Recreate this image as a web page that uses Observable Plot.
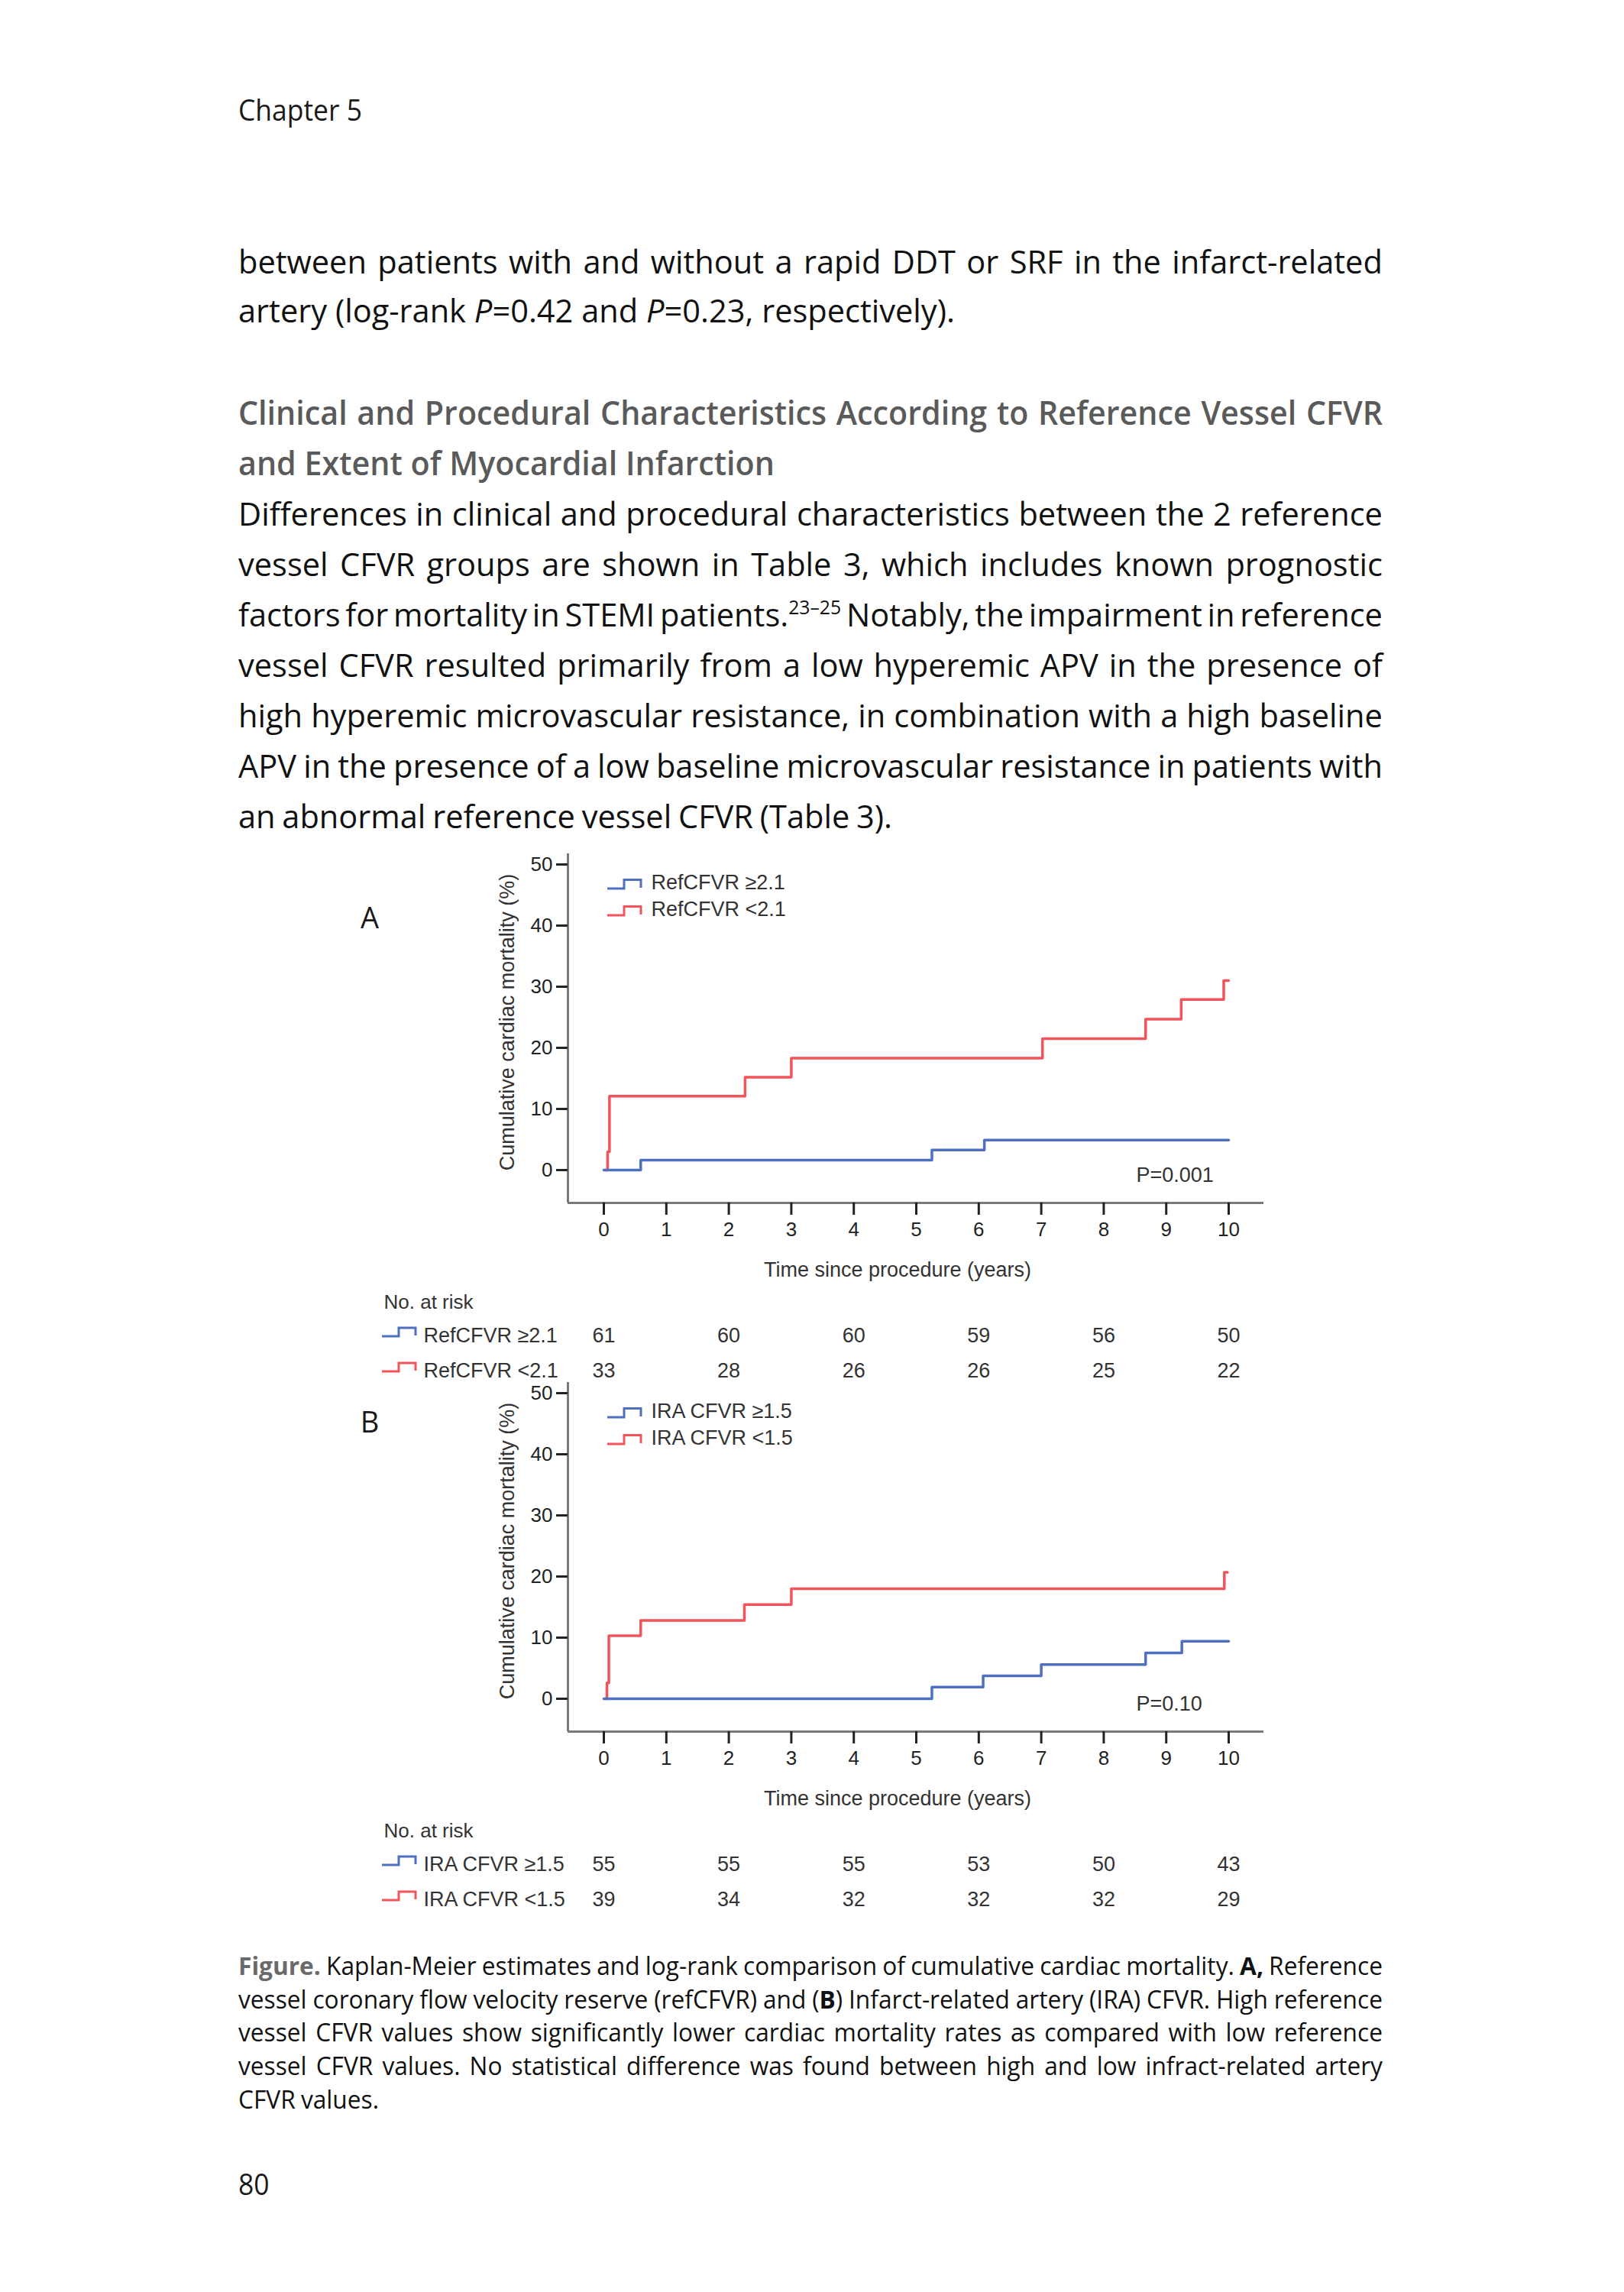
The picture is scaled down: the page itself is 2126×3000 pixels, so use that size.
<!DOCTYPE html>
<html><head><meta charset="utf-8">
<script src="https://cdn.jsdelivr.net/npm/d3@7"></script>
<script src="https://cdn.jsdelivr.net/npm/@observablehq/plot@0.6"></script>
<style>
html,body{margin:0;padding:0;background:#fff;}
#page{position:relative;width:2126px;height:3000px;overflow:hidden;background:#fff;}
#overlay{position:absolute;left:0;top:0;z-index:2;pointer-events:none;}
</style></head>
<body><div id="page"><svg id="overlay" width="2126" height="3000" xmlns="http://www.w3.org/2000/svg"></svg></div>
<script>
// ---------------- DATA ----------------
const timeTicks = [0,1,2,3,4,5,6,7,8,9,10];
const yTicks = [0,10,20,30,40,50];
const riskTimes = [0,2,4,6,8,10];
const xLabel = "Time since procedure (years)";
const yLabel = "Cumulative cardiac mortality (%)";

// Panel A
const aNames = ["RefCFVR \u22652.1", "RefCFVR <2.1"];
const aBlueT = [0, 0.59, 5.25, 6.09, 10];
const aBlueV = [0, 1.64, 3.28, 4.92, 4.92];
const aRedT  = [0.02, 0.06, 0.09, 2.26, 3.0, 7.02, 8.67, 9.24, 9.92, 10.0];
const aRedV  = [0, 3.0, 12.1, 15.2, 18.3, 21.5, 24.7, 27.9, 31.0, 31.0];
const aRiskBlue = [61, 60, 60, 59, 56, 50];
const aRiskRed  = [33, 28, 26, 26, 25, 22];
const aP = "P=0.001";

// Panel B
const bNames = ["IRA CFVR \u22651.5", "IRA CFVR <1.5"];
const bBlueT = [0, 5.25, 6.07, 7.0, 8.67, 9.25, 10];
const bBlueV = [0, 1.9, 3.75, 5.6, 7.5, 9.4, 9.4];
const bRedT  = [0.02, 0.05, 0.08, 0.59, 2.25, 3.0, 9.93, 9.98];
const bRedV  = [0, 2.6, 10.3, 12.8, 15.4, 18.0, 20.7, 20.7];
const bRiskBlue = [55, 55, 55, 53, 50, 43];
const bRiskRed  = [39, 34, 32, 32, 32, 29];
const bP = "P=0.10";

// Page text
const chapterText = "Chapter 5";
const introLines = [
  "between patients with and without a rapid DDT or SRF in the infarct-related",
  "artery (log-rank *P*=0.42 and *P*=0.23, respectively)."
];
const headingLines = [
  "Clinical and Procedural Characteristics According to Reference Vessel CFVR",
  "and Extent of Myocardial Infarction"
];
const paraLines = [
  "Differences in clinical and procedural characteristics between the 2 reference",
  "vessel CFVR groups are shown in Table 3, which includes known prognostic",
  "factors for mortality in STEMI patients.^23\u201325^ Notably, the impairment in reference",
  "vessel CFVR resulted primarily from a low hyperemic APV in the presence of",
  "high hyperemic microvascular resistance, in combination with a high baseline",
  "APV in the presence of a low baseline microvascular resistance in patients with",
  "an abnormal reference vessel CFVR (Table 3)."
];
const captionLines = [
  "{Figure.} Kaplan-Meier estimates and log-rank comparison of cumulative cardiac mortality. **A,** Reference",
  "vessel coronary flow velocity reserve (refCFVR) and (**B**) Infarct-related artery (IRA) CFVR. High reference",
  "vessel CFVR values show significantly lower cardiac mortality rates as compared with low reference",
  "vessel CFVR values. No statistical difference was found between high and low infract-related artery",
  "CFVR values."
];
const pageNumber = "80";

// ---------------- STYLE ----------------
const BLUE = "#4f6fc0";
const RED = "#f2545c";
const CHART_FONT = "'Liberation Sans', Arial, Helvetica, sans-serif";
const PAGE_FONT = "'Open Sans', 'Noto Sans', sans-serif";

const page = document.getElementById("page");
const overlay = document.getElementById("overlay");
const NS = "http://www.w3.org/2000/svg";

// ---------------- CHART PANELS ----------------
const X0 = -0.5746, X1 = 10.562, Y0 = -5.375, Y1 = 51.75;
function label(txt, frameAnchor, dx, dy, extra) {
  return Plot.text([txt], Object.assign({frameAnchor, dx, dy, lineAnchor: "middle", textAnchor: "start", fontSize: 27, fill: "#333"}, extra || {}));
}
function panel(top, names, bT, bV, rT, rV, riskB, riskR, pText) {
  const blue = bT.map((t, i) => ({t, v: bV[i]}));
  const red = rT.map((t, i) => ({t, v: rV[i]}));
  const rb = riskTimes.map((t, i) => ({t, n: riskB[i]}));
  const rr = riskTimes.map((t, i) => ({t, n: riskR[i]}));
  const chart = Plot.plot({
    width: 1240, height: 720,
    marginLeft: 283, marginRight: 46, marginTop: 17, marginBottom: 246,
    x: {domain: [X0, X1]},
    y: {domain: [Y0, Y1]},
    style: {fontFamily: CHART_FONT, fontSize: "26px", color: "#222", background: "transparent", overflow: "visible"},
    marks: [
      Plot.ruleX([X0], {stroke: "#7a7a7a", strokeWidth: 3}),
      Plot.ruleY([Y0], {stroke: "#7a7a7a", strokeWidth: 3}),
      Plot.axisX({ticks: timeTicks, tickSize: 16, tickPadding: 9, strokeWidth: 3, stroke: "#222", fontSize: 26, label: null, tickFormat: d => String(d)}),
      Plot.axisY({ticks: yTicks, tickSize: 15, tickPadding: 5, strokeWidth: 3, stroke: "#222", fontSize: 26, label: null, tickFormat: d => String(d)}),
      Plot.line(red, {x: "t", y: "v", curve: "step-after", stroke: RED, strokeWidth: 3.5}),
      Plot.line(blue, {x: "t", y: "v", curve: "step-after", stroke: BLUE, strokeWidth: 3.5}),
      label(yLabel, "left", -79, -8, {rotate: -90, textAnchor: "middle", fontSize: 27}),
      label(xLabel, "bottom", -24, 88, {textAnchor: "middle", fontSize: 27}),
      label(names[0], "top-left", 109, 38),
      label(names[1], "top-left", 109, 73),
      label(pText, "bottom-left", 744, -36),
      label("No. at risk", "bottom-left", -241, 130, {fontSize: 26}),
      label(names[0], "bottom-left", -189, 174),
      label(names[1], "bottom-left", -189, 220),
      Plot.text(rb, {x: "t", text: "n", frameAnchor: "bottom", dy: 174, lineAnchor: "middle", textAnchor: "middle", fontSize: 27, fill: "#333"}),
      Plot.text(rr, {x: "t", text: "n", frameAnchor: "bottom", dy: 220, lineAnchor: "middle", textAnchor: "middle", fontSize: 27, fill: "#333"})
    ]
  });
  chart.style.position = "absolute";
  chart.style.left = "460px";
  chart.style.top = top + "px";
  page.insertBefore(chart, overlay);

  // legend glyphs (step icons) next to the legend and risk-table labels
  const off = top - 1100;
  stepIcon(795, 1163 + off, 1151.5 + off, BLUE);
  stepIcon(795, 1198 + off, 1186.5 + off, RED);
  stepIcon(500, 1749 + off, 1738 + off, BLUE);
  stepIcon(500, 1795 + off, 1784 + off, RED);
}
function stepIcon(x, yLow, yHigh, color) {
  const p = document.createElementNS(NS, "path");
  p.setAttribute("d", `M${x},${yLow} H${x + 22} V${yHigh} H${x + 44} V${yLow - 1}`);
  p.setAttribute("fill", "none");
  p.setAttribute("stroke", color);
  p.setAttribute("stroke-width", 3);
  overlay.appendChild(p);
}

panel(1100, aNames, aBlueT, aBlueV, aRedT, aRedV, aRiskBlue, aRiskRed, aP);
panel(1792, bNames, bBlueT, bBlueV, bRedT, bRedV, bRiskBlue, bRiskRed, bP);

// ---------------- PAGE TEXT ----------------
function parseWord(w) {
  const segs = [];
  const re = /(\*\*[^*]+\*\*|\*[^*]+\*|\^[^^]+\^|\{[^}]+\})/g;
  let last = 0, m;
  while ((m = re.exec(w))) {
    if (m.index > last) segs.push({t: w.slice(last, m.index)});
    const tok = m[0];
    if (tok.startsWith("**")) segs.push({t: tok.slice(2, -2), b: true});
    else if (tok.startsWith("*")) segs.push({t: tok.slice(1, -1), i: true});
    else if (tok.startsWith("^")) segs.push({t: tok.slice(1, -1), sup: true});
    else segs.push({t: tok.slice(1, -1), b: true, fill: "#6a6a6a"});
    last = m.index + tok.length;
  }
  if (last < w.length) segs.push({t: w.slice(last)});
  return segs;
}
function makeWord(segs, size, weight, fill) {
  const t = document.createElementNS(NS, "text");
  t.setAttribute("font-family", PAGE_FONT);
  t.setAttribute("font-size", size);
  t.setAttribute("font-weight", weight);
  t.setAttribute("fill", fill);
  for (const s of segs) {
    const sp = document.createElementNS(NS, "tspan");
    sp.textContent = s.t;
    if (s.b) sp.setAttribute("font-weight", 700);
    if (s.i) sp.setAttribute("font-style", "italic");
    if (s.fill) sp.setAttribute("fill", s.fill);
    if (s.sup) { sp.setAttribute("font-size", Math.round(size * 0.6)); sp.setAttribute("dy", -size * 0.38); }
    t.appendChild(sp);
  }
  overlay.appendChild(t);
  return t;
}
function naturalWidth(str, size, weight) {
  const els = str.split(" ").map(w => makeWord(parseWord(w), size, weight, "#000"));
  const sum = els.reduce((a, e) => a + e.getComputedTextLength(), 0);
  els.forEach(e => e.remove());
  return sum + (els.length - 1) * size * 0.26;
}
function layoutLine(str, x0, base, size, W, s, weight, fill) {
  const els = str.split(" ").map(w => makeWord(parseWord(w), size, weight, fill));
  const widths = els.map(e => e.getComputedTextLength());
  const sum = widths.reduce((a, b) => a + b, 0);
  let gap = els.length > 1 ? (W - s * sum) / (els.length - 1) : 0;
  const minGap = size * 0.13;
  if (els.length > 1 && gap < minGap) { s = (W - minGap * (els.length - 1)) / sum; gap = minGap; }
  let x = x0;
  els.forEach((e, i) => {
    e.setAttribute("transform", `translate(${x.toFixed(2)},${base}) scale(${s.toFixed(4)},1)`);
    x += widths[i] * s + gap;
  });
}

const LEFT = 312;
const FULLW = 1498;
const BODY = 42, HEAD = 43, CAP = 32, CHAP = 39;
const sBody = 938 / naturalWidth(introLines[1], BODY, 400);
const sHead = 702 / naturalWidth(headingLines[1], HEAD, 600);
const sChap = 162 / naturalWidth(chapterText, CHAP, 400);

layoutLine(chapterText, LEFT, 158, CHAP, 162, sChap, 400, "#1a1a1a");
layoutLine(introLines[0], LEFT, 358, BODY, FULLW, sBody, 400, "#111");
layoutLine(introLines[1], LEFT, 422, BODY, 938, sBody, 400, "#111");
layoutLine(headingLines[0], LEFT, 556, HEAD, FULLW, sHead, 600, "#5a5a5a");
layoutLine(headingLines[1], LEFT, 622, HEAD, 702, sHead, 600, "#5a5a5a");
const paraBase = [688, 754, 820, 886, 952, 1018, 1084];
paraLines.forEach((l, i) => layoutLine(l, LEFT, paraBase[i], BODY, i < 6 ? FULLW : 856, sBody, 400, "#111"));
const capBase = [2585, 2629, 2672, 2716, 2760];
captionLines.forEach((l, i) => layoutLine(l, LEFT, capBase[i], CAP, i < 4 ? FULLW : 184, sBody, 400, "#111"));
layoutLine(pageNumber, LEFT, 2873, CHAP, 40, sChap, 400, "#1a1a1a");

// panel letters
[["A", 1215], ["B", 1875]].forEach(([s, y]) => {
  const t = document.createElementNS(NS, "text");
  t.setAttribute("x", 484); t.setAttribute("y", y);
  t.setAttribute("text-anchor", "middle");
  t.setAttribute("font-family", PAGE_FONT);
  t.setAttribute("font-size", 38);
  t.setAttribute("fill", "#1a1a1a");
  t.textContent = s;
  overlay.appendChild(t);
});
</script>
</body></html>
